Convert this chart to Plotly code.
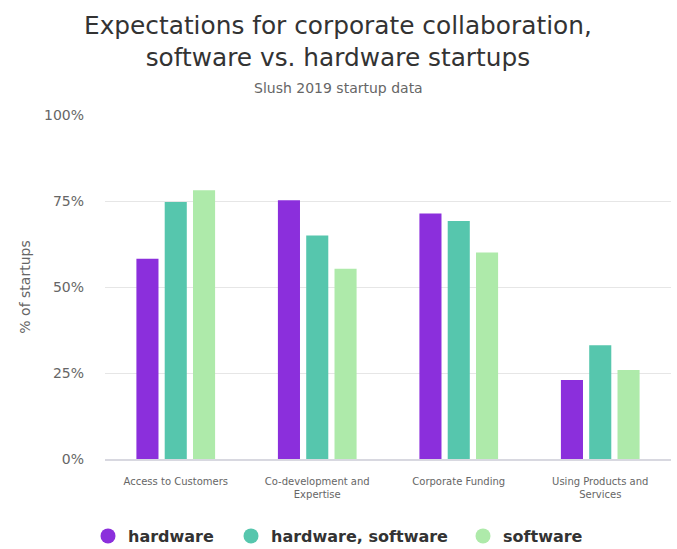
import plotly.graph_objects as go

categories = ["Access to Customers", "Co-development and<br>Expertise",
              "Corporate Funding", "Using Products and<br>Services"]
series_names = ["hardware", "hardware, software", "software"]
hardware = [58.2, 75.2, 71.4, 23.0]
hardware_software = [74.7, 65.0, 69.2, 33.1]
software = [78.1, 55.3, 60.0, 25.9]
colors = ["#8b2fdc", "#56c6ad", "#aeeaaa"]
y_ticks = [0, 25, 50, 75, 100]
y_tick_labels = ["0%", "25%", "50%", "75%", "100%"]

FONT = "DejaVu Sans"
W, H = 677, 549

fig = go.Figure()
legend_ids = ["legend", "legend2", "legend3"]
for name, vals, col, lg in zip(series_names, [hardware, hardware_software, software],
                               colors, legend_ids):
    fig.add_trace(go.Bar(x=categories, y=vals, name=name, marker_color=col,
                         marker_line_width=0, showlegend=False, legendgroup=name))
    # round legend swatch for the series
    fig.add_trace(go.Scatter(x=[None], y=[None], mode="markers", name=name,
                             marker=dict(symbol="circle", size=15, color=col),
                             legendgroup=name, legend=lg, showlegend=True))

legend_font = dict(family=FONT, size=16, color="#333333", weight="bold")
legend_left_px = [88, 231, 463]
legend_common = dict(orientation="h", xref="container", yref="container",
                     xanchor="left", yanchor="middle", y=1 - 536 / H,
                     font=legend_font, bgcolor="rgba(0,0,0,0)", borderwidth=0,
                     itemwidth=30)

fig.update_layout(
    width=W, height=H,
    margin=dict(l=105, r=6, t=115, b=90, autoexpand=False),
    paper_bgcolor="white", plot_bgcolor="white",
    barmode="group", bargap=0.40, bargroupgap=0.22,
    font=dict(family=FONT, color="#666666"),
    legend=dict(x=legend_left_px[0] / W, **legend_common),
    legend2=dict(x=legend_left_px[1] / W, **legend_common),
    legend3=dict(x=legend_left_px[2] / W, **legend_common),
)

fig.add_annotation(text="Expectations for corporate collaboration,<br>software vs. hardware startups",
                   xref="paper", yref="paper",
                   x=(338 - 105) / (W - 111), y=1 + (115 - 41) / (H - 205),
                   xanchor="center", yanchor="middle", showarrow=False,
                   font=dict(family=FONT, size=24.8, color="#333333"))
fig.add_annotation(text="Slush 2019 startup data",
                   xref="paper", yref="paper",
                   x=(338 - 105) / (W - 111), y=1 + (115 - 88) / (H - 205),
                   xanchor="center", yanchor="middle", showarrow=False,
                   font=dict(family=FONT, size=14, color="#666666"))

fig.update_xaxes(showgrid=False, showline=True, linecolor="#d8d8e0", linewidth=2,
                 ticks="", tickfont=dict(size=10, color="#666666"),
                 ticklabelstandoff=12)
fig.update_yaxes(range=[0, 100], tickvals=y_ticks, ticktext=y_tick_labels,
                 showgrid=True, gridcolor="#e6e6e6", zeroline=False,
                 tickfont=dict(size=14, color="#666666"), ticklabelstandoff=20,
                 title=dict(text="% of startups", font=dict(size=14, color="#666666"),
                            standoff=10))

fig.write_html("out.html")
